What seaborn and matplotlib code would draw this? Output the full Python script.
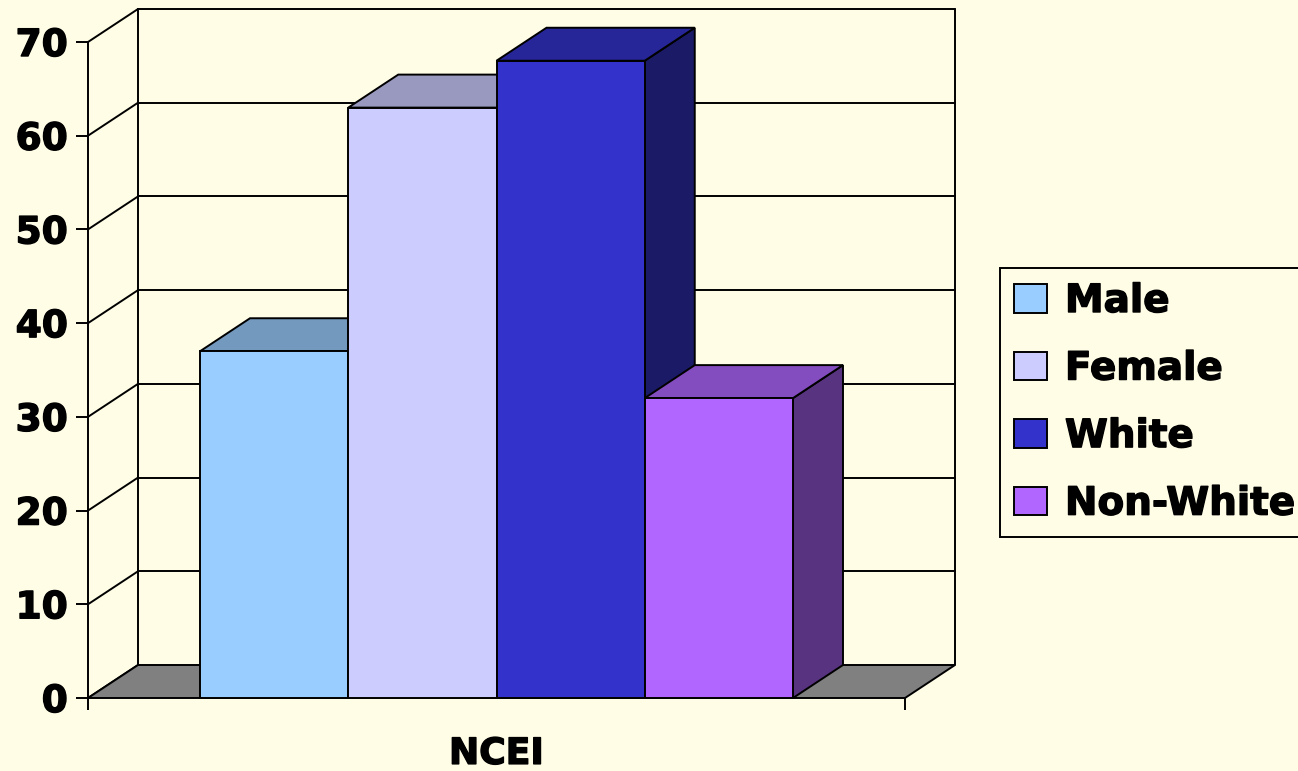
import matplotlib
matplotlib.use("Agg")
import matplotlib.pyplot as plt
import matplotlib.patheffects as pe
import seaborn as sns
import pandas as pd
import numpy as np
from matplotlib.patches import Polygon, Rectangle
from matplotlib.colors import to_rgb

# ---- data ----
group = ["NCEI"]
series = ["Male", "Female", "White", "Non-White"]
values = [37, 63, 68, 32]
colors = ["#99CCFF", "#CCCCFF", "#3333CC", "#B066FF"]
y_ticks = [0, 10, 20, 30, 40, 50, 60, 70]

BG = "#FFFDE6"
sns.set_theme(style="ticks")
plt.rcParams['font.family'] = ['DejaVu Sans']
plt.rcParams['text.color'] = 'black'

W, H = 1298, 771
fig = plt.figure(figsize=(W / 100, H / 100), dpi=100, facecolor=BG)
ax = fig.add_axes([88 / W, 73 / H, 817 / W, 656 / H])
ax.set_facecolor('none')

df = pd.DataFrame({"group": group * len(series), "series": series, "value": values})
LW = 1.4
sns.barplot(data=df, x="group", y="value", hue="series", hue_order=series,
            palette=colors, width=0.7258, saturation=1, edgecolor="black",
            linewidth=LW, ax=ax, legend=False)

ax.set_xlim(-0.5, 0.5)
ax.set_ylim(0, 70)

# 3-D depth offset (data units)
dx = 50 / 817 * 1.0
dy = 33 / (656 / 70)

# back wall & side wall lines
for k in y_ticks:
    if k > 0:
        ax.plot([-0.5 + dx, 0.5 + dx], [k + dy, k + dy], color="black", lw=LW,
                clip_on=False, zorder=1)
    ax.plot([-0.5, -0.5 + dx], [k, k + dy], color="black", lw=LW,
            clip_on=False, zorder=1)
for xx in (-0.5 + dx, 0.5 + dx):
    ax.plot([xx, xx], [dy, 70 + dy], color="black", lw=LW, clip_on=False, zorder=1)

# floor
ax.add_patch(Polygon([(-0.5, 0), (0.5, 0), (0.5 + dx, dy), (-0.5 + dx, dy)],
                     closed=True, facecolor="#808080", edgecolor="black",
                     lw=LW, clip_on=False, zorder=1.5))

# 3-D faces of bars
bars = sorted([p for p in ax.patches if isinstance(p, Rectangle)], key=lambda p: p.get_x())
for i, p in enumerate(bars):
    x0, w, h = p.get_x(), p.get_width(), p.get_height()
    rgb = np.array(to_rgb(p.get_facecolor()))
    z = 3 + i
    p.set_zorder(z + 0.5)
    p.set_clip_on(False)
    top = Polygon([(x0, h), (x0 + w, h), (x0 + w + dx, h + dy), (x0 + dx, h + dy)],
                  closed=True, facecolor=rgb * 0.75, edgecolor="black", lw=LW,
                  clip_on=False, zorder=z)
    side = Polygon([(x0 + w, 0), (x0 + w + dx, dy), (x0 + w + dx, h + dy), (x0 + w, h)],
                   closed=True, facecolor=rgb * 0.5, edgecolor="black", lw=LW,
                   clip_on=False, zorder=z)
    ax.add_patch(side)
    ax.add_patch(top)

# spines and ticks
for s in ["top", "right", "bottom"]:
    ax.spines[s].set_visible(False)
ax.spines["left"].set_color("black")
ax.spines["left"].set_linewidth(LW)

thick = [pe.withStroke(linewidth=1.0, foreground="black")]

ax.set_yticks(y_ticks, labels=[str(t) for t in y_ticks], fontsize=27, fontweight="bold")
ax.tick_params(axis="y", left=True, direction="out", length=8.6, width=LW,
               color="black", pad=6.0, labelcolor="black")
ax.set_xticks([0], labels=group, fontsize=26, fontweight="bold")
ax.set_xticks([-0.5, 0.5], minor=True)
ax.tick_params(axis="x", which="major", bottom=True, length=0, pad=28, labelcolor="black")
ax.tick_params(axis="x", which="minor", bottom=True, length=8.6, width=LW,
               direction="out", color="black")
for t in ax.get_yticklabels() + ax.get_xticklabels():
    t.set_path_effects(thick)
ax.set_xlabel("")
ax.set_ylabel("")

# legend
handles = [Rectangle((0, 0), 1, 1, facecolor=c, edgecolor="black", lw=LW) for c in colors]
leg = fig.legend(handles, series, loc="upper left",
                 bbox_to_anchor=(1000 / W, 1 - 268 / H),
                 prop={"weight": "bold", "size": 28},
                 frameon=True, fancybox=False, edgecolor="black", facecolor=BG,
                 framealpha=1, handlelength=0.86, handleheight=0.74,
                 handletextpad=0.45, labelspacing=0.76, borderpad=0.36,
                 borderaxespad=0)
leg.get_frame().set_linewidth(LW)
for t in leg.get_texts():
    t.set_color("black")
    t.set_path_effects(thick)

fig.savefig("out.png", dpi=100, facecolor=BG)
